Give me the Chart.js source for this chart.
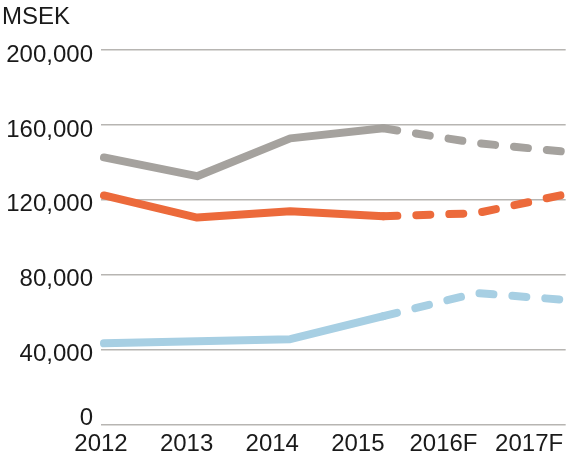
<!DOCTYPE html>
<html>
<head>
<meta charset="utf-8">
<script src="https://cdn.jsdelivr.net/npm/chart.js@4.4.1/dist/chart.umd.min.js"></script>
<style>
  html, body { margin: 0; padding: 0; background: #ffffff; }
  #wrap { width: 569px; height: 470px; }
</style>
</head>
<body>
<div id="wrap"><canvas id="msekChart" width="569" height="470"></canvas></div>
<script>
// years on the x axis, last two are forecasts
const years = ['2012', '2013', '2014', '2015', '2016F', '2017F'];
const yTicks = [0, 40000, 80000, 120000, 160000, 200000];

// MSEK values
const grayValues = [142600, 132600, 152800, 158200, 150300, 145400];
const orangeValues = [122300, 110500, 113900, 111200, 112800, 123400];
const blueValues = [43300, 44400, 45500, 57800, 70200, 66300];

const firstForecast = 3; // dashed from 2015 onwards

function toPoints(values) {
    return values.map(function (v, i) { return { x: i, y: v }; });
}

function makeDataset(values, color) {
    return {
        data: toPoints(values),
        borderColor: color,
        backgroundColor: color,
        borderWidth: 8,
        borderCapStyle: 'round',
        borderJoinStyle: 'round',
        pointRadius: 0,
        tension: 0,
        clip: false,
        segment: {
            borderDash: function (ctx) {
                return ctx.p0DataIndex >= firstForecast ? [14, 19] : undefined;
            }
        }
    };
}

const fontFamily = '"Liberation Sans", Arial, sans-serif';

const ctx = document.getElementById('msekChart').getContext('2d');
const myChart = new Chart(ctx, {
    type: 'line',
    data: {
        datasets: [
            makeDataset(grayValues, '#a5a29e'),
            makeDataset(orangeValues, '#ec6a3b'),
            makeDataset(blueValues, '#a7cfe3')
        ]
    },
    options: {
        responsive: false,
        animation: false,
        layout: { padding: { top: 0, right: 0, bottom: 5.6, left: 2 } },
        plugins: {
            legend: { display: false },
            tooltip: { enabled: false },
            title: {
                display: true,
                text: 'MSEK',
                align: 'start',
                color: '#1a1a1a',
                font: { family: fontFamily, size: 24, weight: 'normal', lineHeight: 1.2 },
                padding: { top: 2.5, bottom: 18.7 }
            }
        },
        scales: {
            // data axis, hidden
            x: {
                type: 'linear',
                display: false,
                min: -0.032,
                max: 4.958
            },
            // label axis, its spacing differs from the data points
            xl: {
                type: 'linear',
                position: 'bottom',
                min: 0,
                max: 5.427,
                afterBuildTicks: function (axis) {
                    axis.ticks = years.map(function (y, i) { return { value: i }; });
                },
                grid: { display: false, drawTicks: false },
                border: { display: false },
                ticks: {
                    autoSkip: false,
                    maxRotation: 0,
                    padding: 5.6,
                    color: '#1a1a1a',
                    font: { family: fontFamily, size: 24 },
                    callback: function (value) { return years[value]; }
                }
            },
            y: {
                min: 0,
                max: 200000,
                afterBuildTicks: function (axis) {
                    axis.ticks = yTicks.map(function (v) { return { value: v }; });
                },
                afterFit: function (axis) { axis.width = 99; },
                grid: { color: '#b7b5b2', lineWidth: 1.5, drawTicks: false },
                border: { display: false },
                ticks: {
                    padding: 8,
                    labelOffset: 5,
                    color: '#1a1a1a',
                    font: function (c) {
                        const isZero = c.tick && c.tick.value === 0;
                        return { family: fontFamily, size: 24, lineHeight: isZero ? '23px' : 1.2 };
                    },
                    callback: function (value) {
                        if (value === 0) return ['0', ''];
                        return value.toLocaleString('en-US');
                    }
                }
            }
        }
    }
});
</script>
</body>
</html>
